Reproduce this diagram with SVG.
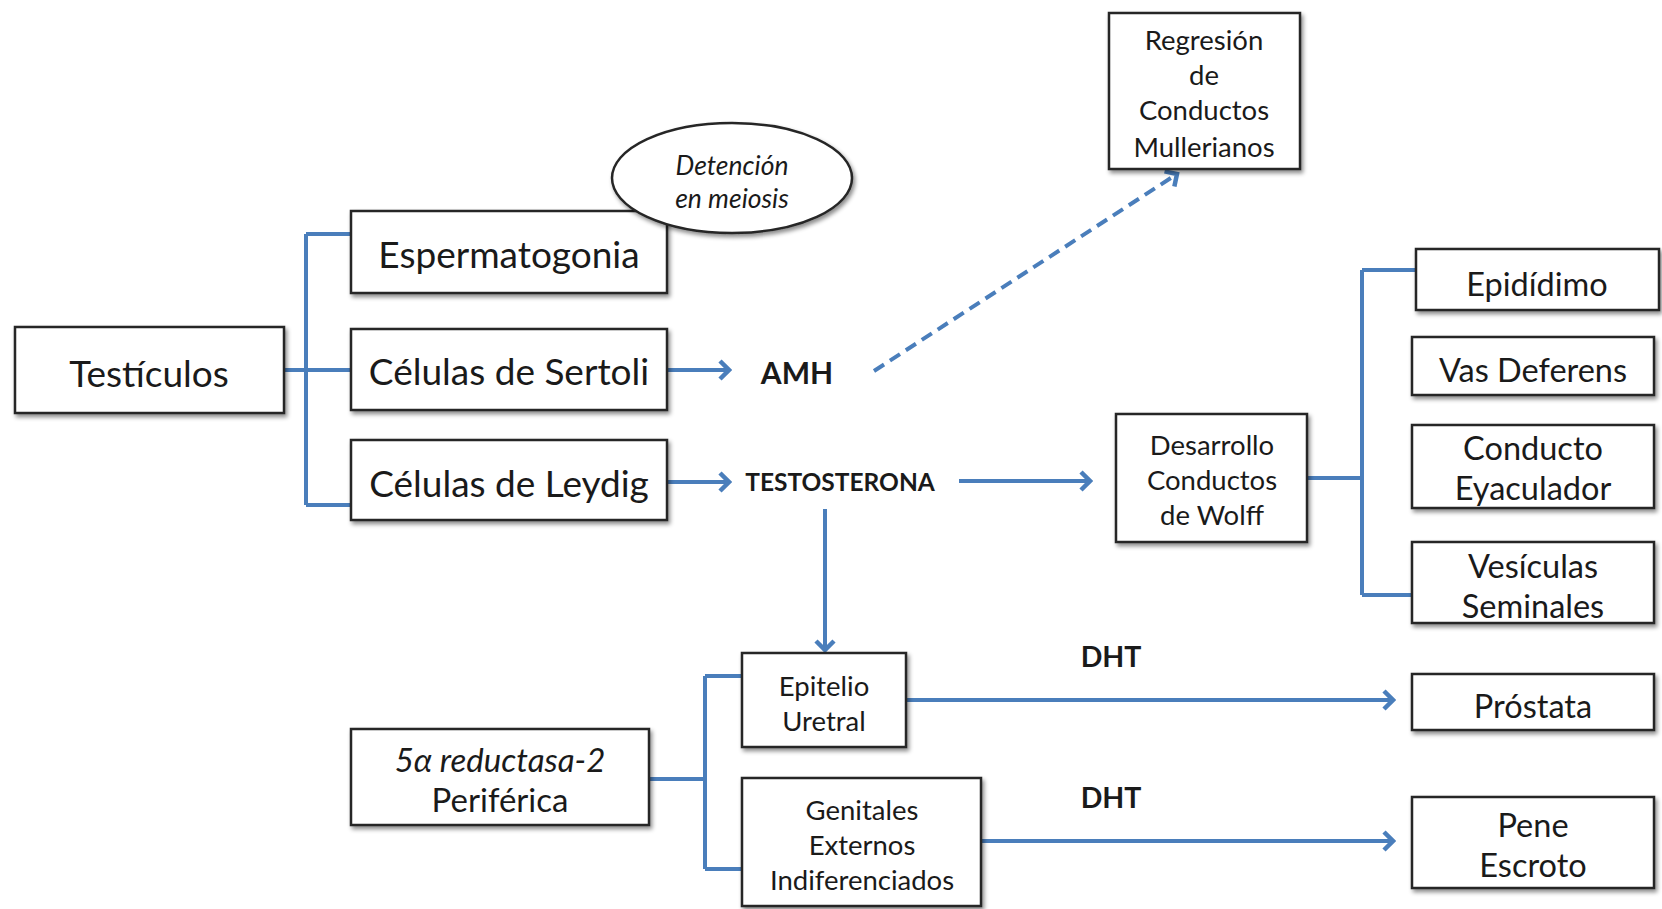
<svg xmlns="http://www.w3.org/2000/svg" width="1662" height="909" viewBox="0 0 1662 909">
<style>
.box{fill:#fff;stroke:#262626;stroke-width:2.5;filter:url(#sh)}
.t{font-family:Lato,"Open Sans","Liberation Sans",sans-serif;fill:#1a1a1a;text-anchor:middle}
.l{font-size:37px}
.m{font-size:32.5px}
.s{font-size:27.5px}
.b{font-weight:bold}
.i{font-style:italic}
.c{fill:none;stroke:#4a7ebb;stroke-width:4}
.a{marker-end:url(#ah)}
</style>
<defs>
<filter id="sh" x="-10%" y="-10%" width="130%" height="140%">
<feDropShadow dx="2" dy="3" stdDeviation="2" flood-color="#000" flood-opacity="0.45"/>
</filter>
<marker id="ah" viewBox="0 0 14 22" refX="11" refY="11" markerWidth="14" markerHeight="22" markerUnits="userSpaceOnUse" orient="auto">
<path d="M2,2 L11,11 L2,20" fill="none" stroke="#4a7ebb" stroke-width="4.5"/>
</marker>
</defs>

<g id="connectors">
<path class="c" d="M284,370 H351 M306,234 V505 M306,234 H351 M306,505 H351"/>
<path class="c a" d="M667,370 H729"/>
<path class="c a" d="M667,482 H729"/>
<path class="c a" d="M874,371 L1177,174" stroke-dasharray="12,7"/>
<path class="c a" d="M959,481 H1090"/>
<path class="c" d="M1307,478 H1362 M1362,270 V595 M1362,270 H1416 M1362,595 H1412"/>
<path class="c a" d="M825,509 V650"/>
<path class="c" d="M649,779 H705 M705,676 V869 M705,676 H742 M705,869 H742"/>
<path class="c a" d="M906,700 H1393"/>
<path class="c a" d="M981,841 H1393"/>
</g>

<g id="testiculos"><rect class="box" x="15" y="327" width="269" height="86"/><text class="t l" x="149" y="387">Testículos</text></g>
<g id="espermatogonia"><rect class="box" x="351" y="211" width="316" height="82"/><text class="t l" x="509" y="268">Espermatogonia</text></g>
<g id="detencion"><ellipse cx="732" cy="178" rx="120" ry="55" fill="#fff" stroke="#262626" stroke-width="2.5" filter="url(#sh)"/><text class="t i" style="font-size:26.5px" x="732" y="175">Detención</text><text class="t i" style="font-size:26.5px" x="732" y="208">en meiosis</text></g>
<g id="sertoli"><rect class="box" x="351" y="329" width="316" height="81"/><text class="t l" x="509" y="385">Células de Sertoli</text></g>
<g id="leydig"><rect class="box" x="351" y="440" width="316" height="80"/><text class="t l" x="509" y="497">Células de Leydig</text></g>
<g id="amh"><text class="t b" style="font-size:30px" x="797" y="384">AMH</text></g>
<g id="testosterona"><text class="t b" style="font-size:24.5px" x="840" y="491">TESTOSTERONA</text></g>
<g id="regresion"><rect class="box" x="1109" y="13" width="191" height="156"/>
<text class="t s" x="1204" y="50">Regresión</text><text class="t s" x="1204" y="85">de</text><text class="t s" x="1204" y="120">Conductos</text><text class="t s" x="1204" y="157">Mullerianos</text></g>
<g id="wolff"><rect class="box" x="1116" y="414" width="191" height="128"/>
<text class="t s" x="1212" y="455">Desarrollo</text><text class="t s" x="1212" y="490">Conductos</text><text class="t s" x="1212" y="525">de Wolff</text></g>
<g id="epididimo"><rect class="box" x="1416" y="249" width="243" height="61"/><text class="t m" x="1537" y="296">Epidídimo</text></g>
<g id="vas"><rect class="box" x="1412" y="337" width="242" height="58"/><text class="t m" x="1533" y="382">Vas Deferens</text></g>
<g id="eyaculador"><rect class="box" x="1412" y="425" width="242" height="83"/><text class="t m" x="1533" y="460">Conducto</text><text class="t m" x="1533" y="500">Eyaculador</text></g>
<g id="vesiculas"><rect class="box" x="1412" y="542" width="242" height="81"/><text class="t m" x="1533" y="578">Vesículas</text><text class="t m" x="1533" y="618">Seminales</text></g>
<g id="epitelio"><rect class="box" x="742" y="653" width="164" height="94"/><text class="t s" x="824" y="696">Epitelio</text><text class="t s" x="824" y="731">Uretral</text></g>
<g id="genitales"><rect class="box" x="742" y="778" width="239" height="128"/><text class="t s" x="862" y="820">Genitales</text><text class="t s" x="862" y="855">Externos</text><text class="t s" x="862" y="890">Indiferenciados</text></g>
<g id="reductasa"><rect class="box" x="351" y="729" width="298" height="96"/><text class="t i" style="font-size:33px" x="500" y="772">5α reductasa-2</text><text class="t" style="font-size:33px" x="500" y="812">Periférica</text></g>
<g id="dht1"><text class="t b" style="font-size:28.5px" x="1111" y="667">DHT</text></g>
<g id="dht2"><text class="t b" style="font-size:28.5px" x="1111" y="808">DHT</text></g>
<g id="prostata"><rect class="box" x="1412" y="674" width="242" height="56"/><text class="t m" x="1533" y="718">Próstata</text></g>
<g id="pene"><rect class="box" x="1412" y="797" width="242" height="91"/><text class="t m" x="1533" y="837">Pene</text><text class="t m" x="1533" y="877">Escroto</text></g>
</svg>
